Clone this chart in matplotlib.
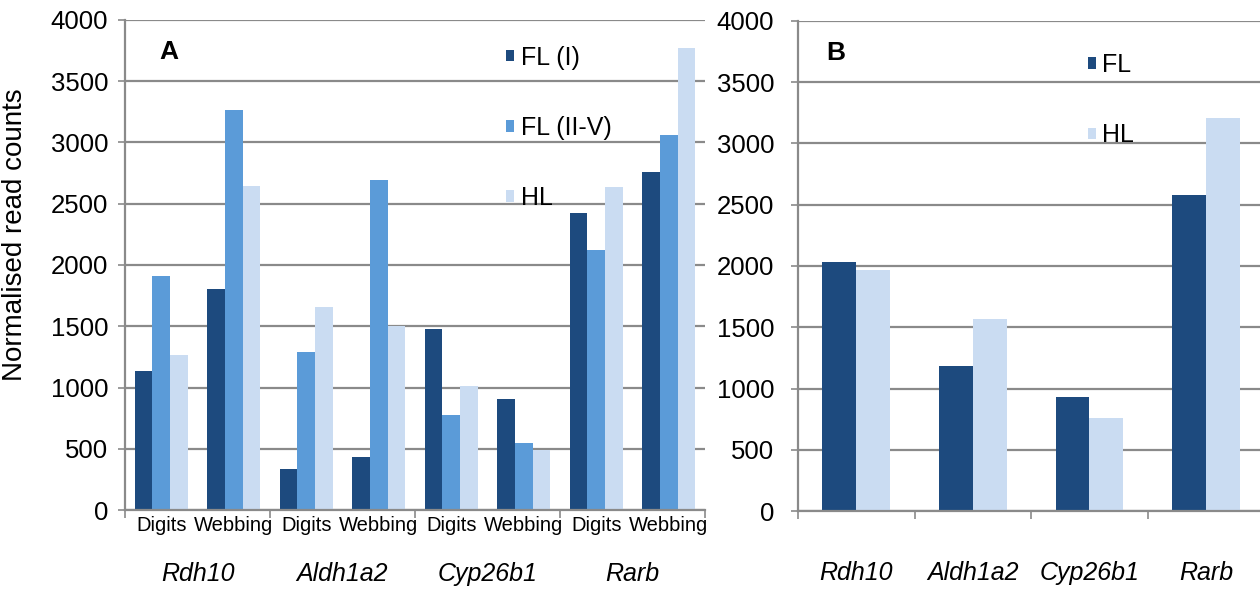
import matplotlib.pyplot as plt
import numpy as np

plt.rcParams['font.family'] = ['Liberation Sans', 'DejaVu Sans']

# panel A data: gene x tissue, three limb series
genes = ['Rdh10', 'Aldh1a2', 'Cyp26b1', 'Rarb']
tissues = ['Digits', 'Webbing']
fl_1 = [1135, 1805, 335, 433, 1478, 906, 2424, 2759]
fl_2_5 = [1910, 3265, 1290, 2694, 776, 547, 2122, 3061]
hl_a = [1265, 2645, 1657, 1502, 1012, 490, 2637, 3771]

# panel B data
fl_b = [2029, 1187, 933, 2578]
hl_b = [1964, 1571, 760, 3208]

dark = '#1d4a7e'
mid = '#5b9bd8'
light = '#cadcf2'
grid_c = '#8a8a8a'


def style_axis(ax):
    ax.set_ylim(0, 4000)
    ax.set_yticks(np.arange(0, 4001, 500))
    ax.yaxis.grid(True, color=grid_c, linewidth=1.6)
    ax.set_axisbelow(True)
    for s in ['top', 'right']:
        ax.spines[s].set_visible(False)
    for s in ['left', 'bottom']:
        ax.spines[s].set_color(grid_c)
        ax.spines[s].set_linewidth(1.6)
    ax.tick_params(axis='y', labelsize=18.5, length=5, color=grid_c, width=1.2, pad=7)


fig = plt.figure(figsize=(12.6, 5.89), dpi=100)

# ---- panel A
axa = fig.add_axes([0.0992, 0.1341, 0.4603, 0.832])
x = np.arange(len(fl_1))
w = 0.245
axa.bar(x - w, fl_1, w, color=dark, label='FL (I)')
axa.bar(x, fl_2_5, w, color=mid, label='FL (II-V)')
axa.bar(x + w, hl_a, w, color=light, label='HL')
style_axis(axa)
axa.set_xlim(-0.5, len(x) - 0.5)
axa.set_xticks(x)
axa.set_xticklabels(tissues * len(genes), fontsize=14.5)
axa.tick_params(axis='x', length=0, pad=4)
axa.set_xticks(np.arange(-0.5, len(x), 2), minor=True)
axa.tick_params(axis='x', which='minor', length=6, color=grid_c, width=1.2)
for i, g in enumerate(genes):
    axa.text(2 * i + 0.5, -0.13, g, transform=axa.get_xaxis_transform(),
             ha='center', va='center', fontsize=18, style='italic')
axa.set_ylabel('Normalised read counts', fontsize=20)
axa.yaxis.set_label_coords(-0.168, 0.561)
axa.text(0.06, 0.935, 'A', transform=axa.transAxes, fontsize=19,
         fontweight='bold', va='center')
axa.legend(loc='upper left', bbox_to_anchor=(0.64, 0.968), frameon=False,
           fontsize=18, handlelength=0.33, handleheight=0.33,
           handletextpad=0.25, labelspacing=1.85, borderaxespad=0)

# ---- panel B
axb = fig.add_axes([0.6333, 0.1324, 0.37, 0.832])
xb = np.arange(len(genes))
wb = 0.29
axb.bar(xb - wb / 2, fl_b, wb, color=dark, label='FL')
axb.bar(xb + wb / 2, hl_b, wb, color=light, label='HL')
style_axis(axb)
axb.tick_params(axis='y', pad=12)
axb.set_xlim(-0.5, len(genes) - 0.5)
axb.set_xticks(xb)
axb.set_xticklabels(genes, fontsize=18, style='italic')
axb.tick_params(axis='x', length=0, pad=36)
axb.set_xticks(np.arange(-0.5, len(genes), 1), minor=True)
axb.tick_params(axis='x', which='minor', length=6, color=grid_c, width=1.2)
axb.text(0.06, 0.935, 'B', transform=axb.transAxes, fontsize=19,
         fontweight='bold', va='center')
axb.legend(loc='upper left', bbox_to_anchor=(0.6, 0.955), frameon=False,
           fontsize=18, handlelength=0.33, handleheight=0.33,
           handletextpad=0.25, labelspacing=1.85, borderaxespad=0)

fig.savefig('out.png', dpi=100)
